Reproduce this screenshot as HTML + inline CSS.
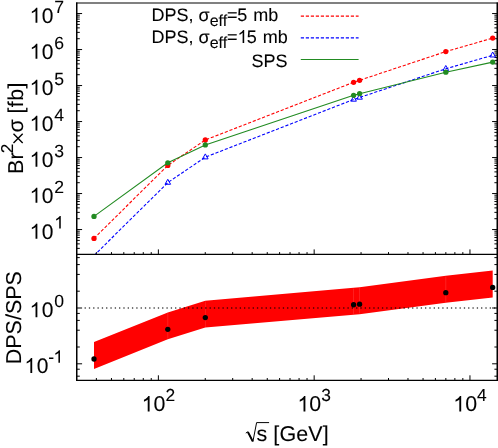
<!DOCTYPE html>
<html><head><meta charset="utf-8"><title>plot</title>
<style>html,body{margin:0;padding:0;background:#fff;}svg{display:block;}text{font-family:"Liberation Sans",sans-serif;text-rendering:geometricPrecision;fill:#000;stroke:#000;stroke-width:0.1px;}</style></head><body>
<svg width="498" height="448" viewBox="0 0 498 448">
<rect width="498" height="448" fill="#fff"/>
<g opacity="0.999">
<defs><clipPath id="ct"><rect x="76.50" y="3.00" width="420.60" height="251.40"/></clipPath></defs>
<polygon points="94.00,342.10 167.80,312.40 205.30,300.70 353.60,287.85 359.60,287.25 445.80,275.80 492.70,270.50 492.70,297.40 445.80,302.70 359.60,314.15 353.60,314.75 205.30,327.60 167.80,339.30 94.00,369.00" fill="#ff0000"/>
<line x1="167.80" y1="313.20" x2="167.80" y2="338.50" stroke="#ff7070" stroke-width="0.5" opacity="0.6"/>
<line x1="205.30" y1="301.50" x2="205.30" y2="326.80" stroke="#ff7070" stroke-width="0.5" opacity="0.6"/>
<line x1="353.60" y1="288.65" x2="353.60" y2="313.95" stroke="#ff7070" stroke-width="0.5" opacity="0.6"/>
<line x1="359.60" y1="288.05" x2="359.60" y2="313.35" stroke="#ff7070" stroke-width="0.5" opacity="0.6"/>
<line x1="445.80" y1="276.60" x2="445.80" y2="301.90" stroke="#ff7070" stroke-width="0.5" opacity="0.6"/>
<line x1="85.1" y1="308.00" x2="496.10" y2="308.00" stroke="#000" stroke-width="1.4" stroke-linecap="round" stroke-dasharray="0.2 4.11" opacity="0.8"/>
<circle cx="94.00" cy="359.00" r="2.65" fill="#000"/>
<circle cx="167.80" cy="329.30" r="2.65" fill="#000"/>
<circle cx="205.30" cy="317.60" r="2.65" fill="#000"/>
<circle cx="353.60" cy="304.75" r="2.65" fill="#000"/>
<circle cx="359.60" cy="304.15" r="2.65" fill="#000"/>
<circle cx="445.80" cy="292.70" r="2.65" fill="#000"/>
<circle cx="492.70" cy="287.40" r="2.65" fill="#000"/>
<path d="M77.00 248.37L79.80 248.37M497.20 248.37L494.40 248.37M77.00 243.88L79.80 243.88M497.20 243.88L494.40 243.88M77.00 240.39L79.80 240.39M497.20 240.39L494.40 240.39M77.00 237.54L79.80 237.54M497.20 237.54L494.40 237.54M77.00 235.13L79.80 235.13M497.20 235.13L494.40 235.13M77.00 233.04L79.80 233.04M497.20 233.04L494.40 233.04M77.00 231.20L79.80 231.20M497.20 231.20L494.40 231.20M77.00 229.55L82.10 229.55M497.20 229.55L492.10 229.55M77.00 218.71L79.80 218.71M497.20 218.71L494.40 218.71M77.00 212.37L79.80 212.37M497.20 212.37L494.40 212.37M77.00 207.88L79.80 207.88M497.20 207.88L494.40 207.88M77.00 204.39L79.80 204.39M497.20 204.39L494.40 204.39M77.00 201.54L79.80 201.54M497.20 201.54L494.40 201.54M77.00 199.13L79.80 199.13M497.20 199.13L494.40 199.13M77.00 197.04L79.80 197.04M497.20 197.04L494.40 197.04M77.00 195.20L79.80 195.20M497.20 195.20L494.40 195.20M77.00 193.55L82.10 193.55M497.20 193.55L492.10 193.55M77.00 182.71L79.80 182.71M497.20 182.71L494.40 182.71M77.00 176.37L79.80 176.37M497.20 176.37L494.40 176.37M77.00 171.88L79.80 171.88M497.20 171.88L494.40 171.88M77.00 168.39L79.80 168.39M497.20 168.39L494.40 168.39M77.00 165.54L79.80 165.54M497.20 165.54L494.40 165.54M77.00 163.13L79.80 163.13M497.20 163.13L494.40 163.13M77.00 161.04L79.80 161.04M497.20 161.04L494.40 161.04M77.00 159.20L79.80 159.20M497.20 159.20L494.40 159.20M77.00 157.55L82.10 157.55M497.20 157.55L492.10 157.55M77.00 146.71L79.80 146.71M497.20 146.71L494.40 146.71M77.00 140.37L79.80 140.37M497.20 140.37L494.40 140.37M77.00 135.88L79.80 135.88M497.20 135.88L494.40 135.88M77.00 132.39L79.80 132.39M497.20 132.39L494.40 132.39M77.00 129.54L79.80 129.54M497.20 129.54L494.40 129.54M77.00 127.13L79.80 127.13M497.20 127.13L494.40 127.13M77.00 125.04L79.80 125.04M497.20 125.04L494.40 125.04M77.00 123.20L79.80 123.20M497.20 123.20L494.40 123.20M77.00 121.55L82.10 121.55M497.20 121.55L492.10 121.55M77.00 110.71L79.80 110.71M497.20 110.71L494.40 110.71M77.00 104.37L79.80 104.37M497.20 104.37L494.40 104.37M77.00 99.88L79.80 99.88M497.20 99.88L494.40 99.88M77.00 96.39L79.80 96.39M497.20 96.39L494.40 96.39M77.00 93.54L79.80 93.54M497.20 93.54L494.40 93.54M77.00 91.13L79.80 91.13M497.20 91.13L494.40 91.13M77.00 89.04L79.80 89.04M497.20 89.04L494.40 89.04M77.00 87.20L79.80 87.20M497.20 87.20L494.40 87.20M77.00 85.55L82.10 85.55M497.20 85.55L492.10 85.55M77.00 74.71L79.80 74.71M497.20 74.71L494.40 74.71M77.00 68.37L79.80 68.37M497.20 68.37L494.40 68.37M77.00 63.88L79.80 63.88M497.20 63.88L494.40 63.88M77.00 60.39L79.80 60.39M497.20 60.39L494.40 60.39M77.00 57.54L79.80 57.54M497.20 57.54L494.40 57.54M77.00 55.13L79.80 55.13M497.20 55.13L494.40 55.13M77.00 53.04L79.80 53.04M497.20 53.04L494.40 53.04M77.00 51.20L79.80 51.20M497.20 51.20L494.40 51.20M77.00 49.55L82.10 49.55M497.20 49.55L492.10 49.55M77.00 38.71L79.80 38.71M497.20 38.71L494.40 38.71M77.00 32.37L79.80 32.37M497.20 32.37L494.40 32.37M77.00 27.88L79.80 27.88M497.20 27.88L494.40 27.88M77.00 24.39L79.80 24.39M497.20 24.39L494.40 24.39M77.00 21.54L79.80 21.54M497.20 21.54L494.40 21.54M77.00 19.13L79.80 19.13M497.20 19.13L494.40 19.13M77.00 17.04L79.80 17.04M497.20 17.04L494.40 17.04M77.00 15.20L79.80 15.20M497.20 15.20L494.40 15.20M77.00 13.55L82.10 13.55M497.20 13.55L492.10 13.55M77.00 376.18L79.80 376.18M497.20 376.18L494.40 376.18M77.00 369.21L79.80 369.21M497.20 369.21L494.40 369.21M77.00 363.80L82.10 363.80M497.20 363.80L492.10 363.80M77.00 347.00L79.80 347.00M497.20 347.00L494.40 347.00M77.00 330.21L79.80 330.21M497.20 330.21L494.40 330.21M77.00 320.38L79.80 320.38M497.20 320.38L494.40 320.38M77.00 313.41L79.80 313.41M497.20 313.41L494.40 313.41M77.00 308.00L82.10 308.00M497.20 308.00L492.10 308.00M77.00 291.20L79.80 291.20M497.20 291.20L494.40 291.20M77.00 274.41L79.80 274.41M497.20 274.41L494.40 274.41M77.00 264.58L79.80 264.58M497.20 264.58L494.40 264.58M77.00 257.61L79.80 257.61M497.20 257.61L494.40 257.61M96.37 254.40L96.37 252.10M96.37 380.30L96.37 378.00M111.46 254.40L111.46 252.10M111.46 380.30L111.46 378.00M123.80 254.40L123.80 252.10M123.80 380.30L123.80 378.00M134.23 254.40L134.23 252.10M134.23 380.30L134.23 378.00M143.27 254.40L143.27 252.10M143.27 380.30L143.27 378.00M151.24 254.40L151.24 252.10M151.24 380.30L151.24 378.00M158.36 254.40L158.36 249.40M158.36 380.30L158.36 375.30M205.26 254.40L205.26 252.10M205.26 380.30L205.26 378.00M232.70 254.40L232.70 252.10M232.70 380.30L232.70 378.00M252.17 254.40L252.17 252.10M252.17 380.30L252.17 378.00M267.26 254.40L267.26 252.10M267.26 380.30L267.26 378.00M279.60 254.40L279.60 252.10M279.60 380.30L279.60 378.00M290.03 254.40L290.03 252.10M290.03 380.30L290.03 378.00M299.07 254.40L299.07 252.10M299.07 380.30L299.07 378.00M307.04 254.40L307.04 252.10M307.04 380.30L307.04 378.00M314.16 254.40L314.16 249.40M314.16 380.30L314.16 375.30M361.06 254.40L361.06 252.10M361.06 380.30L361.06 378.00M388.50 254.40L388.50 252.10M388.50 380.30L388.50 378.00M407.97 254.40L407.97 252.10M407.97 380.30L407.97 378.00M423.06 254.40L423.06 252.10M423.06 380.30L423.06 378.00M435.40 254.40L435.40 252.10M435.40 380.30L435.40 378.00M445.83 254.40L445.83 252.10M445.83 380.30L445.83 378.00M454.87 254.40L454.87 252.10M454.87 380.30L454.87 378.00M462.84 254.40L462.84 252.10M462.84 380.30L462.84 378.00M469.96 254.40L469.96 249.40M469.96 380.30L469.96 375.30" stroke="#000" stroke-width="1" fill="none"/>
<polyline points="94.00,238.40 167.80,165.40 205.30,140.00 353.60,82.30 359.60,80.30 445.80,51.60 492.70,38.10" fill="none" stroke="#ff0000" stroke-width="1.1" stroke-dasharray="3.2 1.8" clip-path="url(#ct)"/>
<circle cx="94.00" cy="238.40" r="2.65" fill="#ff0000"/>
<circle cx="167.80" cy="165.40" r="2.65" fill="#ff0000"/>
<circle cx="205.30" cy="140.00" r="2.65" fill="#ff0000"/>
<circle cx="353.60" cy="82.30" r="2.65" fill="#ff0000"/>
<circle cx="359.60" cy="80.30" r="2.65" fill="#ff0000"/>
<circle cx="445.80" cy="51.60" r="2.65" fill="#ff0000"/>
<circle cx="492.70" cy="38.10" r="2.65" fill="#ff0000"/>
<polyline points="94.00,255.58 167.80,182.58 205.30,157.18 353.60,99.48 359.60,97.48 445.80,68.78 492.70,55.28" fill="none" stroke="#0000ff" stroke-width="1.1" stroke-dasharray="3.2 1.8" clip-path="url(#ct)"/>
<path d="M167.80 179.28L165.00 184.28L170.60 184.28Z" fill="none" stroke="#0000ff" stroke-width="1"/>
<path d="M205.30 153.88L202.50 158.88L208.10 158.88Z" fill="none" stroke="#0000ff" stroke-width="1"/>
<path d="M353.60 96.18L350.80 101.18L356.40 101.18Z" fill="none" stroke="#0000ff" stroke-width="1"/>
<path d="M359.60 94.18L356.80 99.18L362.40 99.18Z" fill="none" stroke="#0000ff" stroke-width="1"/>
<path d="M445.80 65.48L443.00 70.48L448.60 70.48Z" fill="none" stroke="#0000ff" stroke-width="1"/>
<path d="M492.70 51.98L489.90 56.98L495.50 56.98Z" fill="none" stroke="#0000ff" stroke-width="1"/>
<polyline points="94.00,216.40 167.80,162.80 205.30,144.90 353.60,95.30 359.60,93.70 445.80,72.20 492.70,62.10" fill="none" stroke="#228b22" stroke-width="1.1" clip-path="url(#ct)"/>
<circle cx="94.00" cy="216.40" r="2.65" fill="#228b22"/>
<circle cx="167.80" cy="162.80" r="2.65" fill="#228b22"/>
<circle cx="205.30" cy="144.90" r="2.65" fill="#228b22"/>
<circle cx="353.60" cy="95.30" r="2.65" fill="#228b22"/>
<circle cx="359.60" cy="93.70" r="2.65" fill="#228b22"/>
<circle cx="445.80" cy="72.20" r="2.65" fill="#228b22"/>
<circle cx="492.70" cy="62.10" r="2.65" fill="#228b22"/>
<path d="M76.0 254.40H498M76.0 380.30H498" stroke="#000" stroke-width="1.3" fill="none"/>
<path d="M76.0 3.00H498" stroke="#000" stroke-width="1.1" fill="none"/>
<path d="M76.75 2.50V380.95" stroke="#000" stroke-width="1.5" fill="none"/>
<path d="M497.3 2.50V380.95" stroke="#000" stroke-width="1.6" fill="none"/>
<line x1="300.8" y1="16.15" x2="358.6" y2="16.15" stroke="#ff0000" stroke-width="1.1" stroke-dasharray="3.2 1.8"/>
<line x1="300.8" y1="37.85" x2="358.6" y2="37.85" stroke="#0000ff" stroke-width="1.1" stroke-dasharray="3.2 1.8"/>
<line x1="300.8" y1="59.50" x2="358.6" y2="59.50" stroke="#228b22" stroke-width="1.1"/>
<text x="151.6" y="21.20" font-size="18">DPS, σ</text>
<text x="209.7" y="26.20" font-size="16">eff</text>
<text x="226.9" y="21.20" font-size="18">=</text>
<text x="237.2" y="21.20" font-size="18">5</text>
<text x="253.2" y="21.20" font-size="18">mb</text>
<text x="151.6" y="42.90" font-size="18">DPS, σ</text>
<text x="209.7" y="47.90" font-size="16">eff</text>
<text x="226.9" y="42.90" font-size="18">=</text>
<path transform="translate(237.50,42.90) scale(18.000,-18.000)" d="M0.3726 0H0.2847V0.5601Q0.2529 0.5298 0.2014 0.4995T0.1089 0.4541V0.5391Q0.1816 0.5732 0.2361 0.6218T0.313 0.7158H0.3726Z" fill="#000"/>
<text x="246.8" y="42.90" font-size="18">5</text>
<text x="262.8" y="42.90" font-size="18">mb</text>
<text x="287.6" y="66.6" font-size="18" text-anchor="end">SPS</text>
<path transform="translate(29.55,238.75) scale(21.000,-21.000)" d="M0.3726 0H0.2847V0.5601Q0.2529 0.5298 0.2014 0.4995T0.1089 0.4541V0.5391Q0.1816 0.5732 0.2361 0.6218T0.313 0.7158H0.3726Z" fill="#000"/>
<text x="41.83" y="238.75" font-size="21">0</text>
<path transform="translate(54.21,228.55) scale(17.600,-17.600)" d="M0.3726 0H0.2847V0.5601Q0.2529 0.5298 0.2014 0.4995T0.1089 0.4541V0.5391Q0.1816 0.5732 0.2361 0.6218T0.313 0.7158H0.3726Z" fill="#000"/>
<path transform="translate(29.55,202.75) scale(21.000,-21.000)" d="M0.3726 0H0.2847V0.5601Q0.2529 0.5298 0.2014 0.4995T0.1089 0.4541V0.5391Q0.1816 0.5732 0.2361 0.6218T0.313 0.7158H0.3726Z" fill="#000"/>
<text x="41.83" y="202.75" font-size="21">0</text>
<text x="54.21" y="192.55" font-size="17.6">2</text>
<path transform="translate(29.55,166.75) scale(21.000,-21.000)" d="M0.3726 0H0.2847V0.5601Q0.2529 0.5298 0.2014 0.4995T0.1089 0.4541V0.5391Q0.1816 0.5732 0.2361 0.6218T0.313 0.7158H0.3726Z" fill="#000"/>
<text x="41.83" y="166.75" font-size="21">0</text>
<text x="54.21" y="156.55" font-size="17.6">3</text>
<path transform="translate(29.55,130.75) scale(21.000,-21.000)" d="M0.3726 0H0.2847V0.5601Q0.2529 0.5298 0.2014 0.4995T0.1089 0.4541V0.5391Q0.1816 0.5732 0.2361 0.6218T0.313 0.7158H0.3726Z" fill="#000"/>
<text x="41.83" y="130.75" font-size="21">0</text>
<text x="54.21" y="120.55" font-size="17.6">4</text>
<path transform="translate(29.55,94.75) scale(21.000,-21.000)" d="M0.3726 0H0.2847V0.5601Q0.2529 0.5298 0.2014 0.4995T0.1089 0.4541V0.5391Q0.1816 0.5732 0.2361 0.6218T0.313 0.7158H0.3726Z" fill="#000"/>
<text x="41.83" y="94.75" font-size="21">0</text>
<text x="54.21" y="84.55" font-size="17.6">5</text>
<path transform="translate(29.55,58.75) scale(21.000,-21.000)" d="M0.3726 0H0.2847V0.5601Q0.2529 0.5298 0.2014 0.4995T0.1089 0.4541V0.5391Q0.1816 0.5732 0.2361 0.6218T0.313 0.7158H0.3726Z" fill="#000"/>
<text x="41.83" y="58.75" font-size="21">0</text>
<text x="54.21" y="48.55" font-size="17.6">6</text>
<path transform="translate(29.55,22.75) scale(21.000,-21.000)" d="M0.3726 0H0.2847V0.5601Q0.2529 0.5298 0.2014 0.4995T0.1089 0.4541V0.5391Q0.1816 0.5732 0.2361 0.6218T0.313 0.7158H0.3726Z" fill="#000"/>
<text x="41.83" y="22.75" font-size="21">0</text>
<text x="54.21" y="12.55" font-size="17.6">7</text>
<path transform="translate(29.55,317.20) scale(21.000,-21.000)" d="M0.3726 0H0.2847V0.5601Q0.2529 0.5298 0.2014 0.4995T0.1089 0.4541V0.5391Q0.1816 0.5732 0.2361 0.6218T0.313 0.7158H0.3726Z" fill="#000"/>
<text x="41.83" y="317.20" font-size="21">0</text>
<text x="54.21" y="307.00" font-size="17.6">0</text>
<path transform="translate(24.39,373.00) scale(21.000,-21.000)" d="M0.3726 0H0.2847V0.5601Q0.2529 0.5298 0.2014 0.4995T0.1089 0.4541V0.5391Q0.1816 0.5732 0.2361 0.6218T0.313 0.7158H0.3726Z" fill="#000"/>
<text x="36.67" y="373.00" font-size="21">0</text>
<text x="48.35" y="362.80" font-size="17.6">-</text>
<path transform="translate(53.41,362.80) scale(17.600,-17.600)" d="M0.3726 0H0.2847V0.5601Q0.2529 0.5298 0.2014 0.4995T0.1089 0.4541V0.5391Q0.1816 0.5732 0.2361 0.6218T0.313 0.7158H0.3726Z" fill="#000"/>
<path transform="translate(141.62,411.40) scale(21.400,-21.400)" d="M0.3726 0H0.2847V0.5601Q0.2529 0.5298 0.2014 0.4995T0.1089 0.4541V0.5391Q0.1816 0.5732 0.2361 0.6218T0.313 0.7158H0.3726Z" fill="#000"/>
<text x="153.53" y="411.40" font-size="21.4">0</text>
<text x="165.43" y="401.10" font-size="17.4">2</text>
<path transform="translate(297.42,411.40) scale(21.400,-21.400)" d="M0.3726 0H0.2847V0.5601Q0.2529 0.5298 0.2014 0.4995T0.1089 0.4541V0.5391Q0.1816 0.5732 0.2361 0.6218T0.313 0.7158H0.3726Z" fill="#000"/>
<text x="309.33" y="411.40" font-size="21.4">0</text>
<text x="321.23" y="401.10" font-size="17.4">3</text>
<path transform="translate(453.22,411.40) scale(21.400,-21.400)" d="M0.3726 0H0.2847V0.5601Q0.2529 0.5298 0.2014 0.4995T0.1089 0.4541V0.5391Q0.1816 0.5732 0.2361 0.6218T0.313 0.7158H0.3726Z" fill="#000"/>
<text x="465.13" y="411.40" font-size="21.4">0</text>
<text x="477.03" y="401.10" font-size="17.4">4</text>
<g transform="translate(23.4,172.2) rotate(-90)" font-size="21.5">
<text x="-1.76" y="0">Br</text>
<text x="19.0" y="-10.7" font-size="17.2">2</text>
<path d="M29.3 -0.7L38.5 -9.9M29.3 -9.9L38.5 -0.7" stroke="#000" stroke-width="1.4" fill="none"/>
<text x="39.7" y="0">σ</text>
<text x="58.6" y="0" letter-spacing="0.4">[fb]</text>
</g>
<text transform="translate(21.0,364.26) rotate(-90)" font-size="21.5">DPS/SPS</text>
<text x="256.4" y="441.4" font-size="21.5" letter-spacing="0.1">s [GeV]</text>
<path d="M245.8 433.1L247.8 431.8L252.9 441.6L256.6 422.6L269.1 422.6" fill="none" stroke="#000" stroke-width="1.0" stroke-linejoin="miter"/>
<path d="M247.9 432.0L252.7 441.2" fill="none" stroke="#000" stroke-width="1.9"/>
</g>
</svg></body></html>
